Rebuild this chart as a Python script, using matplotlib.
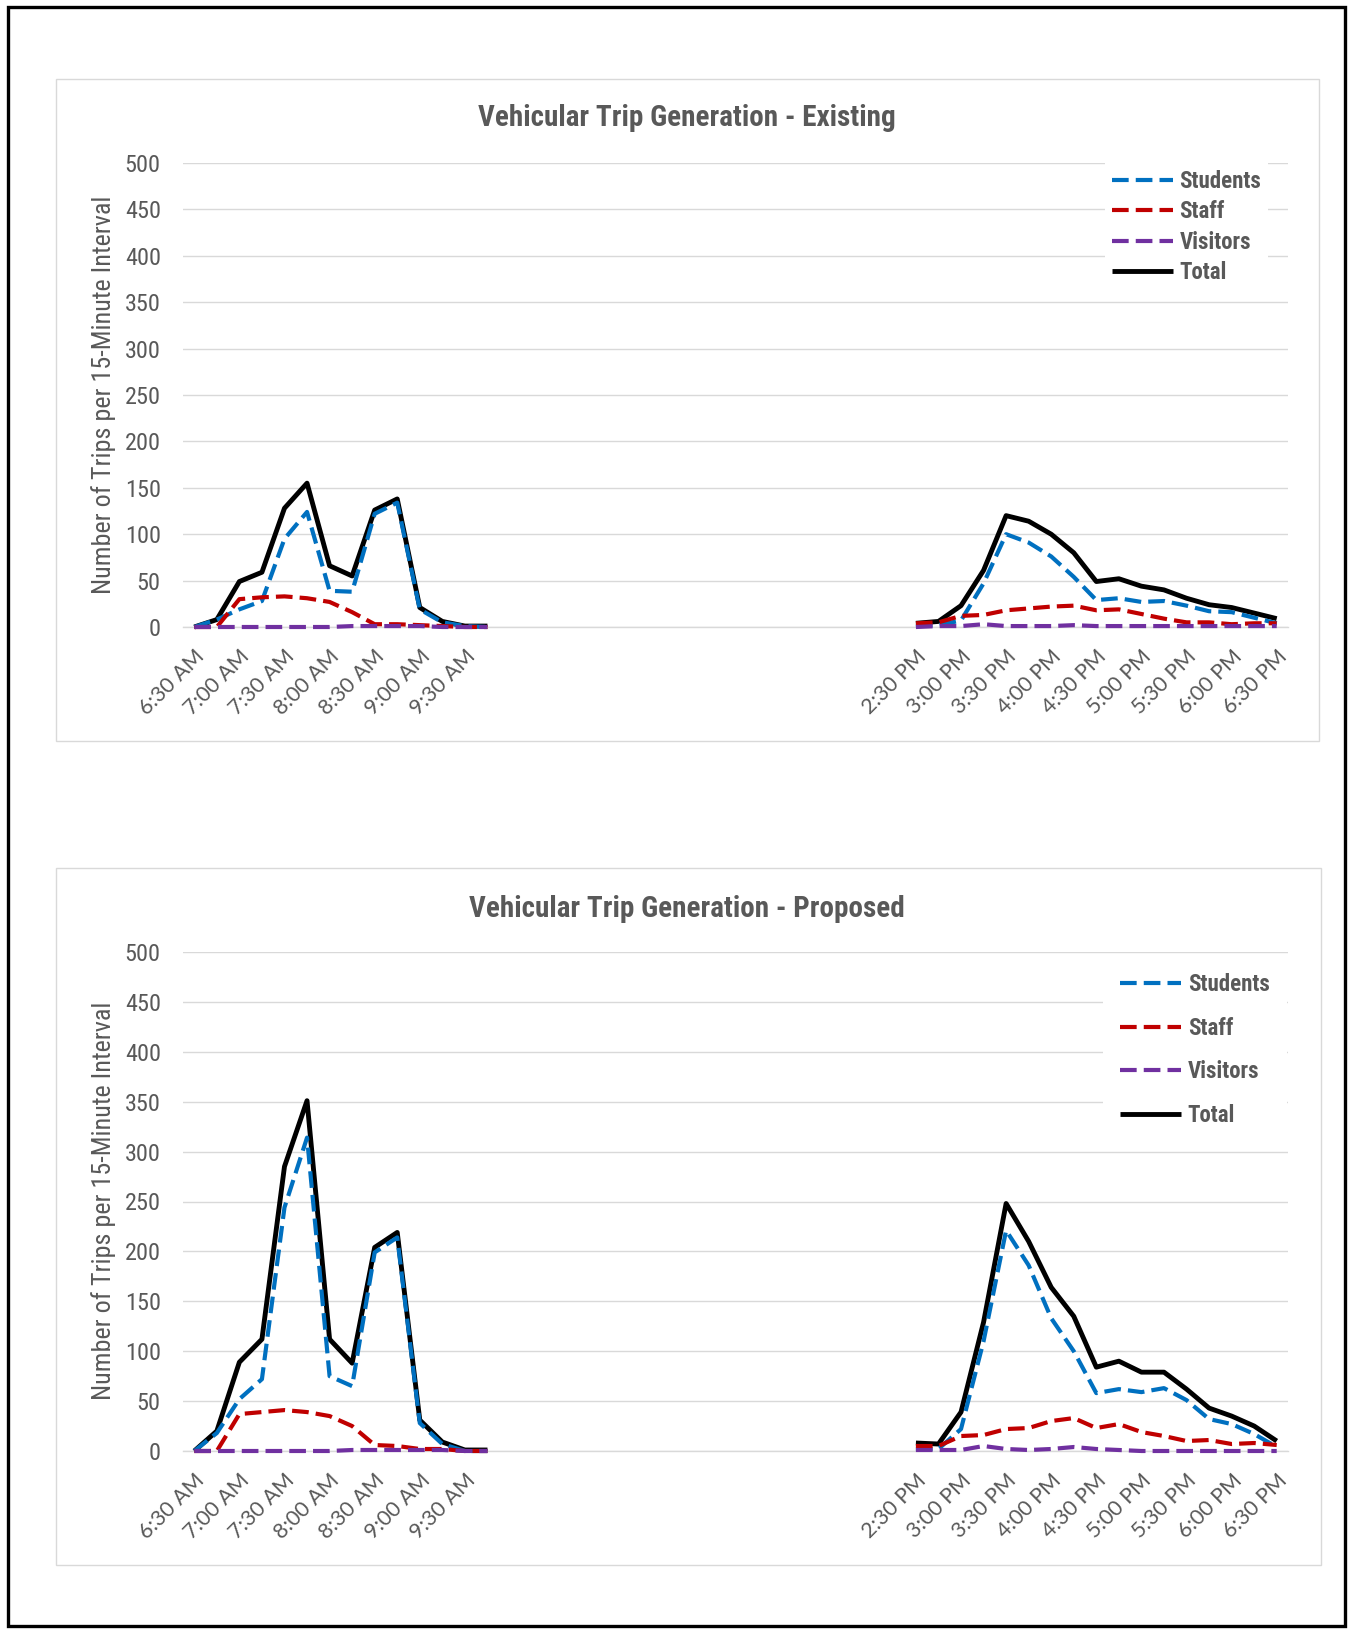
import matplotlib
matplotlib.use("Agg")
import matplotlib.pyplot as plt
from matplotlib import font_manager as fm
from matplotlib.font_manager import FontProperties
from matplotlib.patches import Rectangle
import pandas as pd

W, H = 1348, 1629
TEXT_GREY = '#595959'
GRID_GREY = '#D9D9D9'

# 15-minute slots on the category axis
slots = [s.lstrip('0') for s in
         pd.date_range('2000-01-01 06:30', '2000-01-01 18:30', freq='15min').strftime('%I:%M %p')]

am_times = ['6:30 AM', '6:45 AM', '7:00 AM', '7:15 AM', '7:30 AM', '7:45 AM', '8:00 AM',
            '8:15 AM', '8:30 AM', '8:45 AM', '9:00 AM', '9:15 AM', '9:30 AM', '9:45 AM']
pm_times = ['2:30 PM', '2:45 PM', '3:00 PM', '3:15 PM', '3:30 PM', '3:45 PM', '4:00 PM',
            '4:15 PM', '4:30 PM', '4:45 PM', '5:00 PM', '5:15 PM', '5:30 PM', '5:45 PM',
            '6:00 PM', '6:15 PM', '6:30 PM']
tick_labels = ['6:30 AM', '7:00 AM', '7:30 AM', '8:00 AM', '8:30 AM', '9:00 AM', '9:30 AM',
               '2:30 PM', '3:00 PM', '3:30 PM', '4:00 PM', '4:30 PM', '5:00 PM', '5:30 PM',
               '6:00 PM', '6:30 PM']

# existing counts
ex_am_students = [0, 8, 19, 28, 95, 124, 39, 38, 122, 134, 19, 5, 1, 0]
ex_am_staff = [0, 0, 30, 32, 33, 31, 27, 16, 3, 3, 2, 1, 0, 0]
ex_am_visitors = [0, 0, 0, 0, 0, 0, 0, 1, 1, 1, 1, 0, 0, 0]
ex_am_total = [0, 8, 49, 59, 128, 155, 66, 55, 126, 138, 21, 6, 1, 1]
ex_pm_students = [1, 2, 7, 47, 100, 91, 76, 54, 29, 31, 27, 28, 23, 17, 16, 10, 4]
ex_pm_staff = [4, 5, 12, 13, 18, 20, 22, 23, 18, 19, 14, 9, 5, 5, 3, 4, 4]
ex_pm_visitors = [0, 1, 1, 3, 1, 1, 1, 2, 1, 1, 1, 1, 1, 1, 1, 1, 1]
ex_pm_total = [4, 6, 23, 61, 120, 114, 100, 80, 49, 52, 44, 40, 31, 24, 21, 15, 9]

# proposed counts
pr_am_students = [0, 18, 52, 72, 244, 314, 75, 65, 199, 214, 28, 7, 0, 0]
pr_am_staff = [0, 0, 37, 39, 41, 39, 35, 25, 6, 5, 2, 2, 0, 0]
pr_am_visitors = [0, 0, 0, 0, 0, 0, 0, 1, 1, 1, 1, 1, 0, 0]
pr_am_total = [0, 20, 89, 112, 285, 351, 112, 88, 204, 219, 31, 9, 1, 1]
pr_pm_students = [2, 2, 22, 110, 221, 186, 133, 100, 58, 62, 59, 63, 51, 32, 27, 17, 4]
pr_pm_staff = [5, 5, 15, 16, 22, 23, 30, 33, 23, 27, 19, 15, 10, 11, 7, 8, 6]
pr_pm_visitors = [1, 1, 1, 5, 2, 1, 2, 4, 2, 1, 0, 0, 0, 0, 0, 0, 0]
pr_pm_total = [8, 7, 39, 129, 248, 210, 164, 135, 84, 90, 79, 79, 62, 43, 35, 25, 10]

series_style = {
    'Students': dict(color='#0070C0', lw=3.0, dashes=(4, 1.7)),
    'Staff': dict(color='#C00000', lw=3.0, dashes=(4, 1.7)),
    'Visitors': dict(color='#7030A0', lw=3.0, dashes=(4, 1.7)),
    'Total': dict(color='black', lw=3.5),
}


def narrow_face(bold):
    """Path of a narrow/condensed face if one is installed, else None."""
    prefer = ['liberation sans narrow', 'roboto condensed', 'open sans condensed',
              'noto sans condensed', 'noto sans', 'dejavu sans', 'roboto', 'open sans']
    hits = []
    for f in fm.fontManager.ttflist:
        tag = (f.name + ' ' + str(f.stretch) + ' ' + f.fname).lower()
        if not ('narrow' in tag or 'condensed' in tag):
            continue
        if f.style != 'normal':
            continue
        w = f.weight if isinstance(f.weight, int) else fm.weight_dict.get(f.weight, 400)
        if bold and w < 600 or not bold and not (350 <= w <= 500):
            continue
        if 'semi' in tag or 'extra' in tag or 'ultra' in tag:
            continue
        name = f.name.lower()
        rank = next((i for i, p in enumerate(prefer) if name.startswith(p)), len(prefer))
        hits.append((rank, abs(w - (700 if bold else 400)), f.fname))
    return sorted(hits)[0][2] if hits else None


_reg = narrow_face(False)
_bold = narrow_face(True)


def nfont(size, bold=False):
    path = _bold if bold else _reg
    if path:
        return FontProperties(fname=path, size=size)
    return FontProperties(family='Roboto', weight='bold' if bold else 'normal', size=size * 0.92)


def label_font(size):
    return FontProperties(family=['Lato', 'Open Sans', 'DejaVu Sans'], size=size)


def px_rect(l, t, r, b):
    return [l / W, 1 - b / H, (r - l) / W, (b - t) / H]


def draw_panel(ax, am, pm, legend_pos, label_spacing, border_pad):
    am_x = [slots.index(t) for t in am_times]
    pm_x = [slots.index(t) for t in pm_times]
    handles = {}
    for order, name in enumerate(['Total', 'Students', 'Staff', 'Visitors']):
        z = 2 if name == 'Total' else 3 + order
        for xs, ys in ((am_x, am[name]), (pm_x, pm[name])):
            line, = ax.plot(xs, ys, label=name, solid_capstyle='butt', dash_capstyle='butt',
                            clip_on=False, zorder=z, **series_style[name])
        handles[name] = line

    ax.set_xlim(-0.5, len(slots) - 0.5)
    ax.set_ylim(0, 500)
    ax.set_yticks(range(0, 501, 50))
    ax.grid(axis='y', color=GRID_GREY, lw=1.0)
    ax.set_axisbelow(True)
    for side in ['top', 'right', 'left']:
        ax.spines[side].set_visible(False)
    ax.spines['bottom'].set_color(GRID_GREY)
    ax.spines['bottom'].set_linewidth(1.0)

    ax.set_xticks([slots.index(t) for t in tick_labels])
    ax.set_xticklabels(tick_labels, rotation=45, ha='right', va='top', rotation_mode='anchor',
                       fontproperties=label_font(15.5), color=TEXT_GREY)
    ax.tick_params(axis='x', length=0, pad=14)
    ax.tick_params(axis='y', length=0, pad=16, labelcolor=TEXT_GREY)
    for lab in ax.get_yticklabels():
        lab.set_fontproperties(nfont(17.5))

    names = ['Students', 'Staff', 'Visitors', 'Total']
    leg = ax.legend([handles[n] for n in names], names, loc='upper left',
                    bbox_to_anchor=(legend_pos[0] / W, 1 - legend_pos[1] / H),
                    bbox_transform=ax.figure.transFigure, borderaxespad=0,
                    prop=nfont(16.5, bold=True),
                    labelcolor=TEXT_GREY, handlelength=2.65, handletextpad=0.3,
                    labelspacing=label_spacing, borderpad=border_pad,
                    frameon=True, facecolor='white', edgecolor='none', framealpha=1.0,
                    fancybox=False)
    leg.set_zorder(10)


fig = plt.figure(figsize=(W / 100, H / 100), dpi=100)

# outer frame and chart boxes
fig.patches.append(Rectangle((8 / W, 1 - 1626 / H), 1337 / W, 1619 / H, transform=fig.transFigure,
                             fill=False, edgecolor='black', lw=2.4))
fig.patches.append(Rectangle((56 / W, 1 - 741 / H), 1263 / W, 662 / H, transform=fig.transFigure,
                             fill=False, edgecolor=GRID_GREY, lw=1.0))
fig.patches.append(Rectangle((56 / W, 1 - 1565 / H), 1265 / W, 697 / H, transform=fig.transFigure,
                             fill=False, edgecolor=GRID_GREY, lw=1.0))

ax_top = fig.add_axes(px_rect(183, 163, 1288, 627))
ax_bot = fig.add_axes(px_rect(183, 952, 1288, 1451))

existing_am = {'Students': ex_am_students, 'Staff': ex_am_staff,
               'Visitors': ex_am_visitors, 'Total': ex_am_total}
existing_pm = {'Students': ex_pm_students, 'Staff': ex_pm_staff,
               'Visitors': ex_pm_visitors, 'Total': ex_pm_total}
proposed_am = {'Students': pr_am_students, 'Staff': pr_am_staff,
               'Visitors': pr_am_visitors, 'Total': pr_am_total}
proposed_pm = {'Students': pr_pm_students, 'Staff': pr_pm_staff,
               'Visitors': pr_pm_visitors, 'Total': pr_pm_total}

draw_panel(ax_top, existing_am, existing_pm, (1105, 163), 0.32, 0.3)
draw_panel(ax_bot, proposed_am, proposed_pm, (1103, 956), 0.9, 0.75)

fig.text(687 / W, 1 - 118 / H, 'Vehicular Trip Generation - Existing', ha='center', va='center',
         fontproperties=nfont(21, bold=True), color=TEXT_GREY)
fig.text(687 / W, 1 - 909 / H, 'Vehicular Trip Generation - Proposed', ha='center', va='center',
         fontproperties=nfont(21, bold=True), color=TEXT_GREY)
for yc in (395, 1201):
    fig.text(104 / W, 1 - yc / H, 'Number of Trips per 15-Minute Interval', rotation=90,
             ha='center', va='center', fontproperties=nfont(18.8), color=TEXT_GREY)

fig.savefig('out.png', dpi=100, facecolor='white')
